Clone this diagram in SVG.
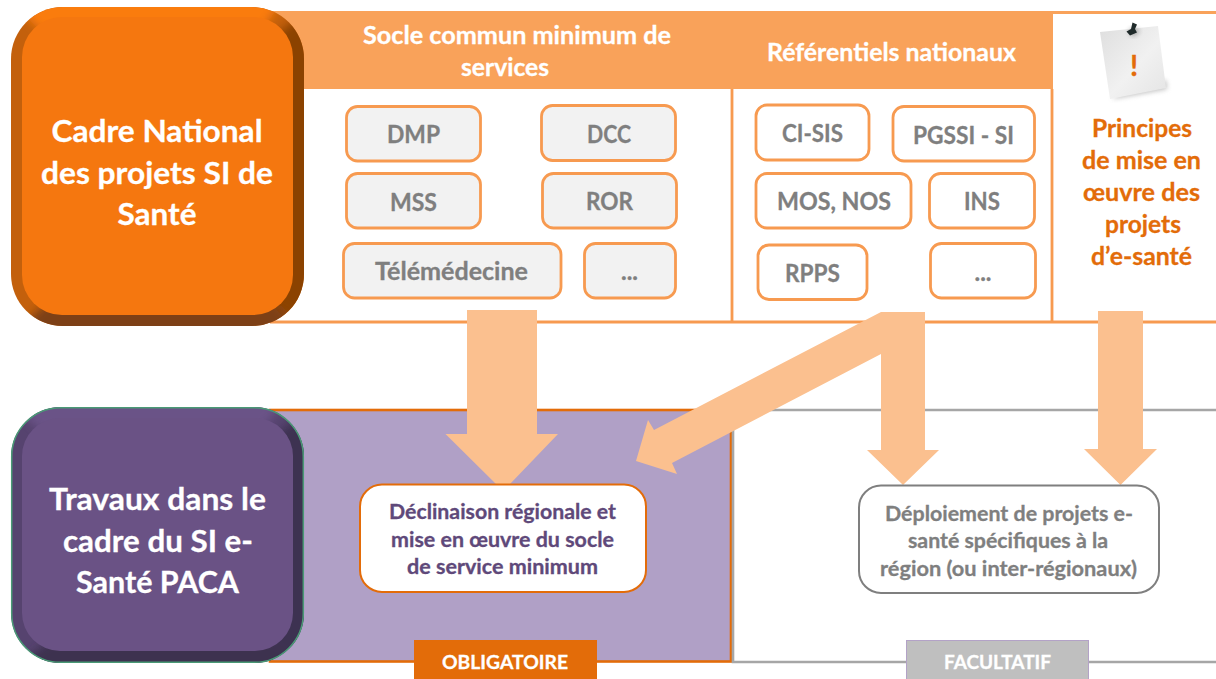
<svg xmlns="http://www.w3.org/2000/svg" width="1216" height="679" viewBox="0 0 1216 679">
<style>
text{font-family:Lato,"Open Sans","Liberation Sans",sans-serif;font-weight:700;text-anchor:middle;stroke-width:.3px}
.wh{fill:#fff;stroke:#fff}.gr{fill:#7f7f7f;stroke:#7f7f7f}.or{fill:#e36c09;stroke:#e36c09}.pu{fill:#5f497a;stroke:#5f497a}
.big{font-size:31px}.hd{font-size:24px}.sm{font-size:24px}.md{font-size:20.5px}.tag{font-size:19px}
.s{stroke:#f79a50;stroke-width:2.8;rx:11px}
.sg{fill:#f2f2f2}.sw{fill:#fff}
.ln{fill:none;stroke:#f79a50;stroke-width:2.800}
.arrow{fill:#fbc08f}
</style>
<defs>
<clipPath id="c1"><rect x="11" y="7" width="293" height="319" rx="52"/></clipPath>
<clipPath id="c2"><rect x="11" y="407" width="293" height="256" rx="50"/></clipPath>
<filter id="soft" x="-10%" y="-10%" width="120%" height="120%"><feGaussianBlur stdDeviation="5"/></filter>
<filter id="shade" x="-20%" y="-20%" width="140%" height="140%"><feGaussianBlur stdDeviation="2.500"/></filter>
<linearGradient id="paper" x1="0" y1="0" x2="1" y2="1"><stop offset="0" stop-color="#dedede"/><stop offset="0.55" stop-color="#f1f1f1"/><stop offset="1" stop-color="#e4e4e4"/></linearGradient>
</defs>
<rect width="1216" height="679" fill="#fff"/>
<g id="panel-national">
<rect x="270" y="11" width="946" height="3" fill="#f9a25a"/>
<rect x="270" y="11" width="783" height="78" fill="#f9a25a"/>
<path class="ln" d="M270 322H1216M732 89V322M1052 89V322"/>
<text class="hd wh" x="517" y="43.500" textLength="308" lengthAdjust="spacingAndGlyphs">Socle commun minimum de</text>
<text class="hd wh" x="505" y="75.500" textLength="88" lengthAdjust="spacingAndGlyphs">services</text>
<text class="hd wh" x="891.500" y="60.500" textLength="249" lengthAdjust="spacingAndGlyphs">Référentiels nationaux</text>
</g>
<g id="panel-obligatoire">
<rect x="270" y="410" width="461" height="251.500" fill="#b0a0c6" stroke="#e36c09" stroke-width="2.600"/>
</g>
<g id="panel-facultatif">
<path d="M1216 410H733V662H1216" fill="#fff" stroke="#a6a6a6" stroke-width="2.600"/>
</g>
<g id="connectors">
<path class="arrow" d="M467 310H537V434H558L510 484H496L445.500 434H467Z"/>
<path class="arrow" d="M881 312H925V450H939L903 485L867 450H881V354L672 463L677 474L636 461L648 420L654 430Z"/>
<path class="arrow" d="M1098 311H1143V449H1157L1120.500 485L1084 449H1098Z"/>
</g>
<g id="node-cadre">
<g clip-path="url(#c1)">
<rect x="11" y="7" width="293" height="319" fill="#c3600c"/>
<g filter="url(#soft)">
<path d="M320 0V340L270 300V40Z" fill="#8b4306"/>
<path d="M0 -10H290L262 30H40Z" fill="#fa7c10"/>
<path d="M0 345H320L270 300H50Z" fill="#7d3f13"/>
</g>
</g>
<rect x="22" y="17" width="271" height="298" rx="40" fill="#f5770f"/>
<text class="big wh" x="157" y="142" textLength="211" lengthAdjust="spacingAndGlyphs">Cadre National</text>
<text class="big wh" x="157" y="184" textLength="232" lengthAdjust="spacingAndGlyphs">des projets SI de</text>
<text class="big wh" x="157" y="225" textLength="79" lengthAdjust="spacingAndGlyphs">Santé</text>
</g>
<g id="node-travaux">
<g clip-path="url(#c2)">
<rect x="11" y="407" width="293" height="256" fill="#56436f"/>
<g filter="url(#soft)">
<path d="M320 400V680L270 640V440Z" fill="#3e3051"/>
<path d="M0 395H290L262 430H40Z" fill="#6b5287"/>
<path d="M0 680H320L270 640H50Z" fill="#3e3050"/>
</g>
</g>
<rect x="11.700" y="407.700" width="291.600" height="254.600" rx="49" fill="none" stroke="#4a9a76" stroke-width="1.500"/>
<rect x="22" y="418" width="271" height="233" rx="38" fill="#6a5285"/>
<text class="big wh" x="157.500" y="510" textLength="217" lengthAdjust="spacingAndGlyphs">Travaux dans le</text>
<text class="big wh" x="158" y="552" textLength="190" lengthAdjust="spacingAndGlyphs">cadre du SI e-</text>
<text class="big wh" x="157.500" y="593" textLength="163" lengthAdjust="spacingAndGlyphs">Santé PACA</text>
</g>
<g id="node-dmp"><rect class="s sg" x="346.500" y="106.500" width="134" height="54.500"/><text class="sm gr" x="413.500" y="143" textLength="53" lengthAdjust="spacingAndGlyphs">DMP</text></g>
<g id="node-dcc"><rect class="s sg" x="541.500" y="105.500" width="134" height="55"/><text class="sm gr" x="609" y="143" textLength="44" lengthAdjust="spacingAndGlyphs">DCC</text></g>
<g id="node-mss"><rect class="s sg" x="346.500" y="173.500" width="134" height="54.500"/><text class="sm gr" x="413.500" y="210.500" textLength="47" lengthAdjust="spacingAndGlyphs">MSS</text></g>
<g id="node-ror"><rect class="s sg" x="542.500" y="173.500" width="134" height="54.500"/><text class="sm gr" x="609.500" y="209.500" textLength="47" lengthAdjust="spacingAndGlyphs">ROR</text></g>
<g id="node-telemedecine"><rect class="s sg" x="343.500" y="243.500" width="217.500" height="54.500"/><text class="sm gr" x="451.500" y="279.500" textLength="153" lengthAdjust="spacingAndGlyphs">Télémédecine</text></g>
<g id="node-etc1"><rect class="s sg" x="584.500" y="243.500" width="91" height="54.500"/><text class="sm gr" x="629.500" y="279.500" textLength="17" lengthAdjust="spacingAndGlyphs">...</text></g>
<g id="node-cisis"><rect class="s sw" x="756" y="105" width="113" height="55"/><text class="sm gr" x="812.500" y="141.500" textLength="61" lengthAdjust="spacingAndGlyphs">CI-SIS</text></g>
<g id="node-pgssi"><rect class="s sw" x="893" y="106.500" width="141.500" height="54.500"/><text class="sm gr" x="963.500" y="143.500" textLength="101" lengthAdjust="spacingAndGlyphs">PGSSI - SI</text></g>
<g id="node-mos"><rect class="s sw" x="756" y="173.500" width="155" height="54.500"/><text class="sm gr" x="834" y="209.500" textLength="114" lengthAdjust="spacingAndGlyphs">MOS, NOS</text></g>
<g id="node-ins"><rect class="s sw" x="929.500" y="173.500" width="105" height="54.500"/><text class="sm gr" x="982" y="209.500" textLength="36" lengthAdjust="spacingAndGlyphs">INS</text></g>
<g id="node-rpps"><rect class="s sw" x="758" y="245" width="109" height="54.500"/><text class="sm gr" x="812.500" y="281.500" textLength="55" lengthAdjust="spacingAndGlyphs">RPPS</text></g>
<g id="node-etc2"><rect class="s sw" x="930.500" y="243.500" width="105" height="54.500"/><text class="sm gr" x="983" y="280.500" textLength="17" lengthAdjust="spacingAndGlyphs">...</text></g>
<g id="node-principes">
<path d="M1112 99L1167 89L1166 80L1120 92Z" fill="#8a8a8a" opacity="0.55" filter="url(#shade)"/>
<path d="M1100 32L1158 26L1166 88L1110 99Z" fill="url(#paper)"/>
<path d="M1128 31L1133 37L1140 31L1134 27Z" fill="#000" opacity="0.3" filter="url(#shade)"/>
<path d="M1132.500 22.500L1137 24.500L1135 29L1137 32.500L1130 35.500L1126.500 31.500L1131 29Z" fill="#1f2a2a"/>
<text x="1134" y="75.500" font-size="29" class="or">!</text>
<text class="hd or" x="1142" y="136.500" textLength="100" lengthAdjust="spacingAndGlyphs">Principes</text>
<text class="hd or" x="1141.500" y="168.500" textLength="119" lengthAdjust="spacingAndGlyphs">de mise en</text>
<text class="hd or" x="1141.500" y="200.500" textLength="117" lengthAdjust="spacingAndGlyphs">œuvre des</text>
<text class="hd or" x="1143" y="232.500" textLength="76" lengthAdjust="spacingAndGlyphs">projets</text>
<text class="hd or" x="1141.500" y="264.500" textLength="101" lengthAdjust="spacingAndGlyphs">d’e-santé</text>
</g>
<g id="node-declinaison">
<rect x="360" y="484.500" width="286" height="107.500" rx="22" fill="#fff" stroke="#e36c09" stroke-width="2"/>
<text class="md pu" x="502.500" y="518.500" textLength="227" lengthAdjust="spacingAndGlyphs">Déclinaison régionale et</text>
<text class="md pu" x="502.500" y="546.500" textLength="223" lengthAdjust="spacingAndGlyphs">mise en œuvre du socle</text>
<text class="md pu" x="502.500" y="573.500" textLength="191" lengthAdjust="spacingAndGlyphs">de service minimum</text>
</g>
<g id="node-deploiement">
<rect x="859" y="485.500" width="300" height="107.500" rx="22" fill="#fff" stroke="#7f7f7f" stroke-width="2"/>
<text class="md gr" x="1009" y="520.500" textLength="248" lengthAdjust="spacingAndGlyphs">Déploiement de projets e-</text>
<text class="md gr" x="1008" y="547.500" textLength="200" lengthAdjust="spacingAndGlyphs">santé spécifiques à la</text>
<text class="md gr" x="1008.500" y="575.500" textLength="257" lengthAdjust="spacingAndGlyphs">région (ou inter-régionaux)</text>
</g>
<g id="tag-obligatoire">
<rect x="414" y="640" width="183" height="39" fill="#e36c09"/>
<text class="tag wh" x="505" y="669" textLength="126" lengthAdjust="spacingAndGlyphs">OBLIGATOIRE</text>
</g>
<g id="tag-facultatif">
<rect x="906.500" y="640.500" width="182" height="39" fill="#bfbfbf" stroke="#b3a2c7" stroke-width="1"/>
<text class="tag wh" x="997.500" y="669" textLength="107" lengthAdjust="spacingAndGlyphs">FACULTATIF</text>
</g>
</svg>
